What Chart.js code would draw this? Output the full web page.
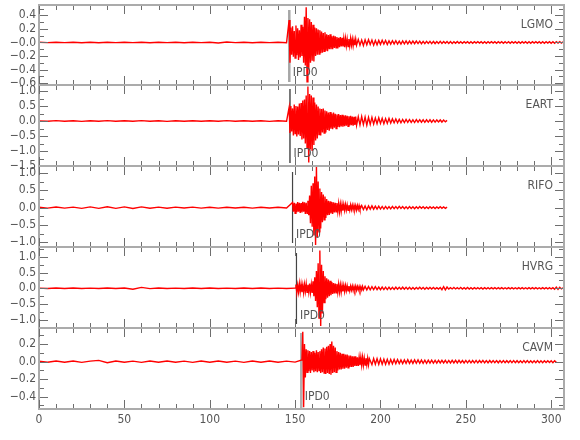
<!DOCTYPE html>
<html><head><meta charset="utf-8">
<script src="https://cdn.jsdelivr.net/npm/chart.js@4/dist/chart.umd.min.js"></script>
<style>
html,body{margin:0;padding:0;background:#fff;width:580px;height:440px;overflow:hidden;}
#wrap{position:relative;width:580px;height:440px;}
.p{position:absolute;left:0;}
</style></head><body>
<div id="wrap"></div>
<script>
// ---------------- DATA ----------------
const stations = ['LGMO', 'EART', 'RIFO', 'HVRG', 'CAVM'];
const pickLabel = 'IPD0';
const pickTimes = [146.6, 147.0, 148.5, 150.8, 153.6];
const xTicks = [0, 50, 100, 150, 200, 250, 300];
const xTickLabels = ['0', '50', '100', '150', '200', '250', '300'];

const yRanges = [[-0.627, 0.552], [-1.5, 1.2], [-1.135, 1.2], [-1.264, 1.315], [-0.54, 0.384]];
const lgmoTicks = [0.4, 0.2, 0, -0.2, -0.4, -0.6];
const lgmoTickLabels = ['0.4', '0.2', '\u22120.0', '\u22120.2', '\u22120.4', '\u22120.6'];
const eartTicks = [1.0, 0.5, 0, -0.5, -1.0, -1.5];
const eartTickLabels = ['1.0', '0.5', '0.0', '\u22120.5', '\u22121.0', '\u22121.5'];
const rifoTicks = [1.0, 0.5, 0, -0.5, -1.0];
const rifoTickLabels = ['1.0', '0.5', '0.0', '\u22120.5', '\u22121.0'];
const hvrgTicks = [1.0, 0.5, 0, -0.5, -1.0];
const hvrgTickLabels = ['1.0', '0.5', '0.0', '\u22120.5', '\u22121.0'];
const cavmTicks = [0.2, 0, -0.2, -0.4];
const cavmTickLabels = ['0.2', '0.0', '\u22120.2', '\u22120.4'];
const minorSteps = [0.1, 0.25, 0.25, 0.25, 0.1];

// sampling of the traces (seconds)
const noiseStep = 5, burstStep = 0.5, codaStep = 1;
const burstStarts = [146.5, 146.5, 148.5, 150.5, 154.0];
const codaStarts = [187, 187, 189, 191, 195];

const lgmoNoise = [0.002,-0.003,0.004,-0.003,0.003,-0.004,0.003,-0.004,0.004,-0.003,0.004,-0.003,0.003,-0.004,0.004,-0.003,0.004,-0.004,0.003,-0.003,0.004,-0.008,0.007,-0.003,0.003,-0.004,0.003,-0.003,0.004,-0.003];
const lgmoBurst = [0.33,-0.30,0.22,-0.18,0.24,-0.21,0.17,-0.23,0.25,-0.19,
  0.21,-0.26,0.18,-0.22,0.26,-0.20,0.23,-0.30,0.38,-0.34,
  0.52,-0.58,0.36,-0.40,0.34,-0.30,0.30,-0.27,0.26,-0.28,
  0.22,-0.20,0.21,-0.18,0.19,-0.17,0.18,-0.16,0.16,-0.15,
  0.14,-0.13,0.15,-0.12,0.12,-0.13,0.11,-0.10,0.12,-0.10,
  0.09,-0.10,0.10,-0.08,0.09,-0.08,0.08,-0.09,0.07,-0.07,
  0.08,-0.06,0.07,-0.06,0.06,-0.07,0.06,-0.05,0.05,-0.06,
  0.05,-0.05,0.06,-0.04,0.05,-0.05,0.04,-0.04,0.05,-0.04];
const lgmoCoda = [0.045,-0.04,0.035,-0.045,0.04,-0.035,0.04,-0.03,0.035,-0.04,
  0.03,-0.035,0.03,-0.028,0.032,-0.025,0.028,-0.03,0.025,-0.024,
  0.026,-0.022,0.025,-0.024,0.02,-0.025,0.022,-0.02,0.024,-0.02,
  0.021,-0.019,0.02,-0.018,0.02,-0.017,0.019,-0.018,0.016,-0.018,
  0.017,-0.015,0.016,-0.017,0.015,-0.016,0.014,-0.015,0.016,-0.014,
  0.015,-0.013,0.014,-0.015,0.013,-0.014,0.012,-0.013,0.014,-0.012,
  0.012,-0.011,0.012,-0.01,0.011,-0.012,0.01,-0.011,0.012,-0.01,
  0.011,-0.01,0.012,-0.011,0.01,-0.011,0.012,-0.01,0.011,-0.01,
  0.01,-0.011,0.012,-0.01,0.011,-0.012,0.01,-0.011,0.01,-0.012,
  0.011,-0.01,0.012,-0.011,0.01,-0.012,0.011,-0.01,0.012,-0.011,
  0.01,-0.011,0.012,-0.01,0.011,-0.01,0.012,-0.011,0.01,-0.012,
  0.011,-0.01,0.012,-0.011,0.01,-0.011,0.012,-0.01,0.011,-0.01,
  0.01];

const eartNoise = [0.005,-0.01,0.012,-0.008,0.01,-0.012,0.009,-0.01,0.011,-0.009,0.01,-0.01,0.012,-0.01,0.009,-0.011,0.01,-0.009,0.01,-0.01,0.009,-0.01,0.011,-0.009,0.01,-0.01,0.009,-0.011,0.01,-0.008];
const eartBurst = [0.45,-0.40,0.50,-0.35,0.42,-0.48,0.55,-0.42,0.50,-0.52,
  0.48,-0.45,0.58,-0.50,0.60,-0.62,0.68,-0.58,0.72,-0.75,
  0.85,-0.90,1.15,-1.38,0.90,-0.95,0.85,-1.00,0.78,-0.80,
  0.62,-0.65,0.55,-0.58,0.48,-0.45,0.42,-0.48,0.40,-0.38,
  0.42,-0.40,0.35,-0.38,0.32,-0.30,0.28,-0.32,0.30,-0.26,
  0.25,-0.27,0.28,-0.22,0.24,-0.25,0.22,-0.20,0.23,-0.21,
  0.20,-0.18,0.21,-0.19,0.18,-0.17,0.19,-0.16,0.17,-0.18,
  0.16,-0.15,0.17,-0.14,0.15,-0.16,0.14,-0.13,0.15,-0.14];
const eartCoda = [0.14,-0.13,0.15,-0.12,0.13,-0.14,0.12,-0.11,0.12,-0.10,
  0.10,-0.09,0.11,-0.08,0.09,-0.09,0.08,-0.08,0.09,-0.07,
  0.07,-0.06,0.065,-0.06,0.055,-0.06,0.05,-0.055,0.05,-0.045,
  0.05,-0.045,0.04,-0.05,0.045,-0.04,0.045,-0.04,0.04,-0.045,
  0.04,-0.035,0.04,-0.04,0.035,-0.04,0.035,-0.03,0.035,-0.035,
  0.03,-0.03,0.02];

const rifoNoise = [0.01,-0.015,0.018,-0.015,0.015,-0.02,0.022,-0.02,0.025,-0.022,0.02,-0.025,0.022,-0.018,0.015,-0.018,0.015,-0.012,0.015,-0.015,0.012,-0.015,0.012,-0.01,0.012,-0.015,0.01,-0.012,0.01,-0.01];
const rifoBurst = [0.15,-0.12,0.14,-0.16,0.12,-0.13,0.16,-0.12,0.14,-0.15,
  0.13,-0.14,0.17,-0.12,0.15,-0.18,0.14,-0.16,0.20,-0.22,
  0.35,-0.45,0.63,-0.55,0.70,-0.80,0.90,-1.08,1.18,-0.85,
  0.75,-0.70,0.55,-0.60,0.45,-0.42,0.38,-0.35,0.32,-0.30,
  0.25,-0.22,0.20,-0.21,0.18,-0.17,0.16,-0.18,0.15,-0.14,
  0.14,-0.12,0.13,-0.11,0.12,-0.12,0.10,-0.11,0.10,-0.09,
  0.09,-0.08,0.09,-0.07,0.08,-0.08,0.07,-0.07,0.08,-0.06,
  0.07,-0.06,0.07,-0.06,0.06,-0.07,0.06,-0.05,0.06,-0.05];
const rifoCoda = [0.06,-0.055,0.05,-0.06,0.05,-0.045,0.05,-0.045,0.04,-0.045,
  0.04,-0.04,0.035,-0.04,0.035,-0.035,0.03,-0.035,0.035,-0.03,
  0.03,-0.03,0.035,-0.025,0.03,-0.03,0.025,-0.03,0.03,-0.025,
  0.025,-0.03,0.025,-0.025,0.03,-0.02,0.025,-0.025,0.02,-0.025,
  0.025,-0.02,0.02,-0.025,0.02,-0.02,0.025,-0.02,0.02,-0.02,
  0.015];

const hvrgNoise = [0.005,-0.008,0.008,-0.006,0.008,-0.008,0.006,-0.008,0.008,-0.006,0.008,-0.03,0.03,-0.01,0.008,-0.008,0.006,-0.008,0.008,-0.006,0.008,-0.008,0.006,-0.008,0.008,-0.006,0.008,-0.008,0.006,-0.008,0.006];
const hvrgBurst = [0.12,-0.14,0.10,-0.12,0.15,-0.11,0.13,-0.12,0.10,-0.14,
  0.12,-0.10,0.14,-0.13,0.11,-0.12,0.15,-0.13,0.12,-0.15,
  0.22,-0.25,0.35,-0.40,0.55,-0.60,0.80,-0.95,1.20,-1.20,
  0.75,-0.80,0.55,-0.45,0.38,-0.35,0.32,-0.30,0.28,-0.25,
  0.24,-0.22,0.20,-0.18,0.17,-0.16,0.15,-0.14,0.14,-0.12,
  0.13,-0.12,0.11,-0.12,0.10,-0.10,0.09,-0.10,0.09,-0.08,
  0.08,-0.08,0.07,-0.08,0.07,-0.06,0.07,-0.07,0.06,-0.06,
  0.07,-0.06,0.06,-0.05,0.06,-0.06,0.05,-0.05,0.06,-0.05];
const hvrgCoda = [0.06,-0.05,0.055,-0.05,0.05,-0.045,0.05,-0.045,0.04,-0.045,
  0.04,-0.04,0.035,-0.04,0.035,-0.035,0.03,-0.035,0.035,-0.03,
  0.03,-0.03,0.035,-0.03,0.03,-0.028,0.03,-0.03,0.025,-0.03,
  0.028,-0.025,0.03,-0.025,0.025,-0.028,0.025,-0.025,0.028,-0.025,
  0.025,-0.025,0.022,-0.025,0.025,-0.045,0.05,-0.05,0.04,-0.025,
  0.022,-0.02,0.025,-0.02,0.022,-0.02,0.025,-0.022,0.02,-0.022,
  0.025,-0.022,0.02,-0.022,0.02,-0.02,0.022,-0.02,0.02,-0.022,
  0.02,-0.02,0.022,-0.02,0.02,-0.018,0.02,-0.02,0.022,-0.018,
  0.02,-0.02,0.018,-0.02,0.02,-0.018,0.02,-0.02,0.018,-0.02,
  0.02,-0.018,0.02,-0.02,0.018,-0.02,0.02,-0.018,0.02,-0.02,
  0.02,-0.02,0.018,-0.02,0.02,-0.018,0.02,-0.02,0.022,-0.02,
  0.02,-0.03,0.04,-0.035,0.03,-0.02,0.018];

const cavmNoise = [0.004,-0.006,0.008,-0.006,0.007,-0.008,0.006,0.015,-0.012,0.008,-0.007,0.006,-0.008,0.007,-0.006,0.008,-0.007,0.006,-0.008,0.007,-0.006,0.008,-0.007,0.006,-0.008,0.007,-0.006,0.008,-0.007,0.006,-0.005];
const cavmBurst = [0.02,0.34,-0.52,0.20,-0.18,0.14,-0.12,0.13,-0.11,0.12,
  -0.13,0.11,-0.10,0.12,-0.12,0.10,-0.11,0.13,-0.12,0.11,
  -0.10,0.12,-0.13,0.14,-0.12,0.16,-0.13,0.15,-0.14,0.17,
  -0.13,0.18,-0.14,0.20,-0.15,0.23,-0.13,0.18,-0.12,0.16,
  -0.12,0.12,-0.10,0.11,-0.09,0.10,-0.09,0.09,-0.08,0.09,
  -0.08,0.08,-0.07,0.08,-0.07,0.07,-0.06,0.07,-0.06,0.06,
  -0.06,0.06,-0.05,0.06,-0.05,0.05,-0.05,0.05,-0.04,0.05,
  -0.04,0.05,-0.04,0.04,-0.04,0.04,-0.035,0.04,-0.035,0.035];
const cavmCoda = [-0.035,0.035,-0.03,0.035,-0.03,0.032,-0.03,0.028,-0.03,0.026,
  -0.028,0.025,-0.024,0.026,-0.022,0.024,-0.022,0.02,-0.022,0.02,
  -0.02,0.022,-0.02,0.018,-0.02,0.02,-0.018,0.02,-0.018,0.018,
  -0.018,0.016,-0.018,0.017,-0.016,0.018,-0.016,0.015,-0.017,0.016,
  -0.015,0.016,-0.015,0.015,-0.016,0.014,-0.015,0.016,-0.014,0.015,
  -0.014,0.015,-0.014,0.013,-0.015,0.014,-0.013,0.014,-0.014,0.013,
  -0.013,0.014,-0.013,0.013,-0.012,0.014,-0.013,0.012,-0.013,0.013,
  -0.012,0.013,-0.012,0.012,-0.013,0.012,-0.012,0.013,-0.012,0.011,
  -0.012,0.012,-0.011,0.012,-0.012,0.011,-0.012,0.011,-0.011,0.012,
  -0.011,0.012,-0.011,0.011,-0.012,0.011,-0.011,0.012,-0.011,0.01,
  -0.011,0.011,-0.01,0.011,-0.01,0.01,-0.011,0.01,-0.008];

const noiseSets = [lgmoNoise, eartNoise, rifoNoise, hvrgNoise, cavmNoise];
const burstSets = [lgmoBurst, eartBurst, rifoBurst, hvrgBurst, cavmBurst];
const codaSets = [lgmoCoda, eartCoda, rifoCoda, hvrgCoda, cavmCoda];
const tickSets = [lgmoTicks, eartTicks, rifoTicks, hvrgTicks, cavmTicks];
const tickLabelSets = [lgmoTickLabels, eartTickLabels, rifoTickLabels, hvrgTickLabels, cavmTickLabels];

// ---------------- STYLE / LAYOUT ----------------
const FONT = "'Liberation Sans Narrow','DejaVu Sans Condensed','Liberation Sans',sans-serif";
const TXT = '#555555';
const FRAME = '#ababab';
const TICK = '#6e6e6e';
const edges = [5, 85, 166, 247, 328, 409];
const PAD = 12;
const markerStyles = [
  {color: '#a6a6a6', width: 2.5, top: 5, bottom: 3},
  {color: '#222222', width: 1.2, top: 4, bottom: 3},
  {color: '#444444', width: 1.2, top: 6, bottom: 4},
  {color: '#444444', width: 1.2, top: 6, bottom: 4},
  {color: '#b0b0b0', width: 2.5, top: 5, bottom: 0}
];

function buildPoints(i) {
  const pts = [];
  noiseSets[i].forEach((v, k) => pts.push({x: k * noiseStep, y: v}));
  burstSets[i].forEach((v, k) => pts.push({x: burstStarts[i] + k * burstStep, y: v}));
  codaSets[i].forEach((v, k) => pts.push({x: codaStarts[i] + k * codaStep, y: v}));
  return pts;
}

function panelPlugin(i) {
  return {
    id: 'panel' + i,
    beforeDatasetsDraw(chart) {
      const {ctx, chartArea: a} = chart;
      const x = chart.scales.x;
      const st = markerStyles[i];
      const px = x.getPixelForValue(pickTimes[i]);
      ctx.save();
      ctx.strokeStyle = st.color; ctx.lineWidth = st.width;
      ctx.beginPath(); ctx.moveTo(px, a.top + st.top); ctx.lineTo(px, a.bottom - st.bottom); ctx.stroke();
      ctx.restore();
    },
    afterDatasetsDraw(chart) {
      const {ctx, chartArea: a} = chart;
      const x = chart.scales.x, y = chart.scales.y;
      ctx.save();
      ctx.strokeStyle = FRAME; ctx.lineWidth = 2;
      ctx.strokeRect(a.left, a.top, a.right - a.left, a.bottom - a.top);
      ctx.strokeStyle = TICK; ctx.lineWidth = 1;
      ctx.beginPath();
      for (let t = 0; t <= 300; t += 10) {
        const p = Math.round(x.getPixelForValue(t)) + 0.5;
        const len = (t % 50 === 0) ? 8 : 4;
        ctx.moveTo(p, a.top + 1); ctx.lineTo(p, a.top + 1 + len);
        ctx.moveTo(p, a.bottom - 1); ctx.lineTo(p, a.bottom - 1 - len);
      }
      const ms = minorSteps[i];
      const majors = tickSets[i];
      for (let k = Math.ceil(y.min / ms - 1e-6); k * ms <= y.max + 1e-9; k++) {
        const v = k * ms;
        const isMajor = majors.some(m => Math.abs(m - v) < 1e-6);
        const len = isMajor ? 8 : 4;
        const p = Math.round(y.getPixelForValue(v)) + 0.5;
        ctx.moveTo(a.left + 1, p); ctx.lineTo(a.left + 1 + len, p);
        ctx.moveTo(a.right - 1, p); ctx.lineTo(a.right - 1 - len, p);
      }
      ctx.stroke();
      ctx.fillStyle = TXT;
      ctx.font = '12px ' + FONT;
      ctx.textAlign = 'right'; ctx.textBaseline = 'middle';
      ctx.fillText(stations[i], a.right - 11, a.top + 19.5);
      ctx.textAlign = 'left'; ctx.textBaseline = 'alphabetic';
      ctx.fillText(pickLabel, x.getPixelForValue(pickTimes[i]) + 3.5, a.bottom - 9);
      ctx.restore();
    }
  };
}

const wrap = document.getElementById('wrap');
for (let i = 0; i < 5; i++) {
  const last = (i === 4);
  const h = edges[i + 1] - edges[i];
  const cH = last ? h + PAD + 31 : h + 2 * PAD;
  const div = document.createElement('div');
  div.className = 'p';
  div.style.top = (edges[i] - PAD) + 'px';
  div.style.width = '580px';
  div.style.height = cH + 'px';
  const cv = document.createElement('canvas');
  cv.width = 580; cv.height = cH;
  cv.style.width = '580px'; cv.style.height = cH + 'px';
  div.appendChild(cv);
  wrap.appendChild(div);

  new Chart(cv.getContext('2d'), {
    type: 'line',
    data: {datasets: [{
      data: buildPoints(i),
      borderColor: '#ff0000',
      borderWidth: 1.4,
      pointRadius: 0,
      tension: 0,
      fill: false
    }]},
    options: {
      responsive: false,
      animation: false,
      events: [],
      parsing: false,
      layout: {padding: {top: PAD, bottom: last ? 6 : PAD, left: 0, right: 16}},
      plugins: {legend: {display: false}, tooltip: {enabled: false}},
      scales: {
        x: {
          type: 'linear', min: 0, max: 307.5,
          display: last,
          afterBuildTicks: s => { s.ticks = xTicks.map(v => ({value: v})); },
          afterFit: s => { if (last) s.height = 25; },
          grid: {display: false, drawTicks: false},
          border: {display: false},
          ticks: {
            autoSkip: false, maxRotation: 0, padding: 4,
            color: TXT, font: {family: FONT, size: 12},
            callback: (v, k) => xTickLabels[k]
          }
        },
        y: {
          type: 'linear', min: yRanges[i][0], max: yRanges[i][1],
          afterBuildTicks: s => { s.ticks = tickSets[i].map(v => ({value: v})); },
          afterFit: s => { s.width = 39; },
          grid: {display: false, drawTicks: false},
          border: {display: false},
          ticks: {
            autoSkip: false, padding: 3,
            color: TXT, font: {family: FONT, size: 12},
            callback: (v, k) => tickLabelSets[i][k]
          }
        }
      }
    },
    plugins: [panelPlugin(i)]
  });
}
</script>
</body></html>
